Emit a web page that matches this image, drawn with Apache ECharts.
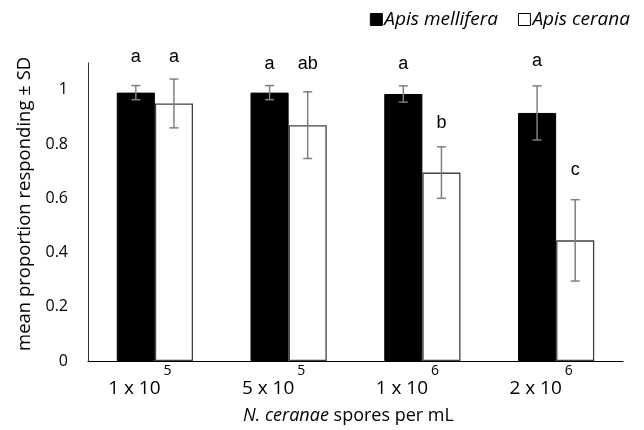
<!DOCTYPE html>
<html><head><meta charset="utf-8">
<script src="https://cdn.jsdelivr.net/npm/echarts@6/dist/echarts.min.js"></script>
<style>html,body{margin:0;padding:0;background:#fff}#c{width:644px;height:430px}</style>
</head><body><div id="c"></div>
<script>
const categories = ['1 x 10', '5 x 10', '1 x 10', '2 x 10'];
const exponents = ['5', '5', '6', '6'];
const mellifera = [0.99, 0.99, 0.985, 0.915];
const melliferaSD = [0.026, 0.026, 0.03, 0.10];
const cerana = [0.95, 0.87, 0.695, 0.445];
const ceranaSD = [0.09, 0.123, 0.095, 0.15];
const melliferaLetters = ['a', 'a', 'a', 'a'];
const ceranaLetters = ['a', 'ab', 'b', 'c'];
const melliferaLetterY = [1.122, 1.095, 1.095, 1.108];
const ceranaLetterY = [1.122, 1.095, 0.878, 0.705];
const yTicks = [0, 0.2, 0.4, 0.6, 0.8, 1];

const FONT = 'Open Sans';
const BAR_FRAC = 0.285;

function errRender(offsetSign) {
  return function (params, api) {
    const i = api.value(0);
    const band = api.size([1, 0])[0];
    const off = offsetSign * band * BAR_FRAC / 2;
    const hi = api.coord([i, api.value(2)]);
    const lo = api.coord([i, api.value(3)]);
    const x = hi[0] + off;
    const cap = 4.5;
    const st = { stroke: '#7f7f7f', lineWidth: 1.5 };
    return { type: 'group', children: [
      { type: 'line', shape: { x1: x, y1: hi[1], x2: x, y2: lo[1] }, style: st },
      { type: 'line', shape: { x1: x - cap, y1: hi[1], x2: x + cap, y2: hi[1] }, style: st },
      { type: 'line', shape: { x1: x - cap, y1: lo[1], x2: x + cap, y2: lo[1] }, style: st }
    ]};
  };
}
function letterRender(offsetSign, letters) {
  return function (params, api) {
    const i = api.value(0);
    const band = api.size([1, 0])[0];
    const off = offsetSign * band * BAR_FRAC / 2;
    const p = api.coord([i, api.value(1)]);
    return { type: 'text', x: p[0] + off, y: p[1],
      style: { text: letters[params.dataIndex], fill: '#000', font: '18px "Liberation Sans"', align: 'center', verticalAlign: 'middle' } };
  };
}

const chart = echarts.init(document.getElementById('c'));
chart.setOption({
  animation: false,
  textStyle: { fontFamily: FONT },
  legend: {
    right: 9, top: 5, itemWidth: 12, itemHeight: 12, itemGap: 20,
    textStyle: { fontFamily: FONT, fontSize: 19, fontStyle: 'italic', color: '#000', padding: [0, 0, 0, -3] },
    data: [
      { name: 'Apis mellifera', icon: 'rect', itemStyle: { color: '#000', borderColor: '#000', borderWidth: 1 } },
      { name: 'Apis cerana', icon: 'rect', itemStyle: { color: '#fff', borderColor: '#000', borderWidth: 1 } }
    ]
  },
  grid: { left: 88, right: 21, top: 62.8, bottom: 68 },
  xAxis: {
    type: 'category', data: categories,
    axisLine: { lineStyle: { color: '#000', width: 1.2 } },
    axisTick: { show: false },
    axisLabel: {
      margin: 3, padding: [0, 30, 0, 0],
      formatter: function (v, i) { return '{m|' + v + '}{s|' + exponents[i] + '}'; },
      rich: {
        m: { fontFamily: FONT, fontSize: 19, color: '#000', lineHeight: 50 },
        s: { fontFamily: FONT, fontSize: 14, color: '#000', lineHeight: 18, verticalAlign: 'top', padding: [0, 0, 0, 3] }
      }
    },
    name: '{i|N. ceranae} spores per mL',
    nameLocation: 'middle', nameGap: 46,
    nameTextStyle: {
      fontFamily: FONT, fontSize: 18, color: '#000', padding: [0, 14, 0, 0],
      rich: { i: { fontFamily: FONT, fontSize: 18, fontStyle: 'italic', color: '#000' } }
    }
  },
  yAxis: {
    type: 'value', min: 0, max: 1.1, interval: 0.2,
    axisLine: { show: true, lineStyle: { color: '#333', width: 1 } },
    axisTick: { show: false },
    splitLine: { show: false },
    axisLabel: {
      margin: 20, fontFamily: FONT, fontSize: 16, color: '#000', showMaxLabel: false,
      formatter: function (v) { const t = yTicks.find(k => Math.abs(k - v) < 1e-9); return t === undefined ? '' : String(t); }
    },
    name: 'mean proportion responding ± SD',
    nameLocation: 'middle', nameGap: 48,
    nameTextStyle: { fontFamily: FONT, fontSize: 18.5, color: '#000', padding: [0, 0, 0, 16] }
  },
  series: [
    { name: 'Apis mellifera', type: 'bar', data: mellifera, barGap: '0%', barCategoryGap: '43%',
      itemStyle: { color: '#000', borderColor: '#000', borderWidth: 1 } },
    { name: 'Apis cerana', type: 'bar', data: cerana, barGap: '0%', barCategoryGap: '43%',
      itemStyle: { color: '#fff', borderColor: '#404040', borderWidth: 1.3 } },
    { type: 'custom', renderItem: errRender(-1), clip: false, z: 10,
      data: mellifera.map((v, i) => [i, v, v + melliferaSD[i], v - melliferaSD[i]]) },
    { type: 'custom', renderItem: errRender(1), clip: false, z: 10,
      data: cerana.map((v, i) => [i, v, v + ceranaSD[i], v - ceranaSD[i]]) },
    { type: 'custom', renderItem: letterRender(-1, melliferaLetters), clip: false, z: 10,
      data: melliferaLetterY.map((v, i) => [i, v]) },
    { type: 'custom', renderItem: letterRender(1, ceranaLetters), clip: false, z: 10,
      data: ceranaLetterY.map((v, i) => [i, v]) }
  ]
});
</script></body></html>
